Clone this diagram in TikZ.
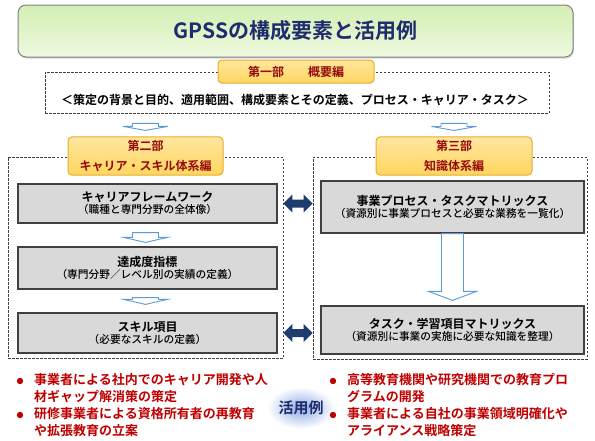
\documentclass[tikz,border=0pt]{standalone}
\usepackage{fontspec}
\setmainfont{Noto Sans CJK JP}[BoldFont={* Bold}]
\newfontfamily\mediumfont{Noto Sans CJK JP Medium}
\usetikzlibrary{calc, positioning, shadows}

\definecolor{titlenavy}{RGB}{31,45,110}
\definecolor{titlegreen}{RGB}{212,239,178}
\definecolor{tabred}{RGB}{150,10,10}
\definecolor{tabgold}{RGB}{255,214,95}
\definecolor{tabedge}{RGB}{232,172,45}
\definecolor{boxgray}{RGB}{217,217,217}
\definecolor{boxedge}{RGB}{64,64,64}
\definecolor{arrowblue}{RGB}{91,155,213}
\definecolor{darrow}{RGB}{31,60,110}
\definecolor{usered}{RGB}{192,0,0}

% hollow block arrow: start, tip, shaft half width, head half width, head length
\newcommand{\hollowdown}[5]{%
  \draw[hollowarrow] let \p1=(#1), \p2=(#2) in
    (\x1-#3,\y1) -- (\x1+#3,\y1) -- (\x1+#3,\y2+#5) -- (\x1+#4,\y2+#5)
    -- (\x1,\y2) -- (\x1-#4,\y2+#5) -- (\x1-#3,\y2+#5) -- cycle;}
% filled double arrow between two points
\newcommand{\fatdouble}[2]{%
  \fill[darrow] let \p1=(#1), \p2=(#2) in
    (\x1,\y1) -- (\x1+9pt,\y1+9pt) -- (\x1+9pt,\y1+4pt) -- (\x2-9pt,\y1+4pt)
    -- (\x2-9pt,\y1+9pt) -- (\x2,\y1) -- (\x2-9pt,\y1-9pt) -- (\x2-9pt,\y1-4pt)
    -- (\x1+9pt,\y1-4pt) -- (\x1+9pt,\y1-9pt) -- cycle;}
\newcommand{\boxlines}[2]{{\bfseries\fontsize{12}{12}\selectfont #1}\\{\mediumfont\fontsize{10.7}{13}\selectfont #2}}

\begin{document}
\begin{tikzpicture}[x=1pt, y=-1pt,
    partbox/.style={draw=boxedge, dash pattern=on 2.5pt off 1.5pt, line width=0.8pt},
    tabbox/.style={draw=tabedge, line width=1pt, rounded corners=4pt, top color=tabgold!60, bottom color=tabgold,
      text=tabred, font=\bfseries\fontsize{12}{20}\selectfont, align=center},
    itembox/.style={draw=boxedge, line width=1.2pt, fill=boxgray, align=center, inner sep=0pt},
    hollowarrow/.style={draw=arrowblue, line width=0.9pt, fill=white, line join=miter},
    usetext/.style={text=usered, font=\bfseries\fontsize{13}{17}\selectfont, align=left, anchor=north west, inner sep=0pt}]
    \useasboundingbox (0,0) rectangle (595,440);

    % Title
    \node[draw=gray, line width=1pt, rounded corners=8pt, top color=titlegreen, bottom color=titlegreen!40,
      drop shadow={opacity=0.3, shadow xshift=1pt, shadow yshift=-1.5pt},
      minimum width=555pt, minimum height=52pt, text=titlenavy, font=\bfseries\fontsize{21}{24}\selectfont]
      (title) at (295.5,31) {GPSSの構成要素と活用例};

    % Overview
    \node[partbox, minimum width=504pt, minimum height=41pt] (overview) at (297,92.5) {};
    \node[font=\bfseries\fontsize{12}{14}\selectfont] (scopeline) at (295,100)
      {＜策定の背景と目的、適用範囲、構成要素とその定義、プロセス・キャリア・タスク＞};
    \node[tabbox, minimum width=156pt, minimum height=23pt] (part1) at (296,71.5) {第一部　　概要編};

    % Career and skill part
    \node[partbox, minimum width=275pt, minimum height=201pt] (careerpart) at (145.5,257.5) {};
    \node[tabbox, minimum width=155pt, minimum height=38pt] (part2) at (145.5,156) {第二部\\キャリア・スキル体系編};
    \node[itembox, minimum width=259pt, minimum height=39pt] (frame) at (147.5,203.5)
      {\boxlines{キャリアフレームワーク}{（職種と専門分野の全体像）}};
    \node[itembox, minimum width=259pt, minimum height=42pt] (level) at (147.5,268)
      {\boxlines{達成度指標}{（専門分野／レベル別の実績の定義）}};
    \node[itembox, minimum width=259pt, minimum height=40pt] (skill) at (147.5,333)
      {\boxlines{スキル項目}{（必要なスキルの定義）}};

    % Knowledge part
    \node[partbox, minimum width=274pt, minimum height=202pt] (knowpart) at (450,258) {};
    \node[tabbox, minimum width=156pt, minimum height=38pt] (part3) at (454,156) {第三部\\知識体系編};
    \node[itembox, minimum width=263pt, minimum height=52pt] (process) at (452.5,207)
      {\boxlines{事業プロセス・タスクマトリックス}{（資源別に事業プロセスと必要な業務を一覧化）}};
    \node[itembox, minimum width=263pt, minimum height=48pt] (learning) at (452.5,330)
      {\boxlines{タスク・学習項目マトリックス}{（資源別に事業の実施に必要な知識を整理）}};

    % Flow arrows
    \hollowdown{$(part2.north |- overview.south)+(0,10)$}{$(part2.north)+(0,-6)$}{13pt}{22.5pt}{4pt}
    \hollowdown{$(part3.north |- overview.south)+(0,10)$}{$(part3.north)+(0,-6)$}{13pt}{22.5pt}{4pt}
    \hollowdown{$(part2.north |- frame.south)+(0,9)$}{$(part2.north |- level.north)+(0,-4)$}{13pt}{22pt}{5pt}
    \hollowdown{$(part2.north |- level.south)+(0,8)$}{$(part2.north |- skill.north)+(0,-8)$}{13pt}{22pt}{5pt}
    \hollowdown{process.south}{$(learning.north)+(0,-5)$}{11pt}{24pt}{9pt}
    \fatdouble{careerpart.east |- frame}{knowpart.west |- frame}
    \fatdouble{careerpart.east |- skill}{knowpart.west |- skill}

    % Usage examples
    \shade[inner color={rgb,255:red,140;green,172;blue,228}, outer color=white] (301,408) ellipse (34pt and 21pt);
    \node[text=titlenavy, font=\bfseries\fontsize{15}{15}\selectfont] (usage) at (301,408) {活用例};
    \node[usetext] (use1) at (34,373.5) {事業者による社内でのキャリア開発や人\\材ギャップ解消策の策定};
    \node[usetext] (use2) at (34,407.5) {研修事業者による資格所有者の再教育\\や拡張教育の立案};
    \node[usetext] (use3) at (347,373.5) {高等教育機関や研究機関での教育プロ\\グラムの開発};
    \node[usetext] (use4) at (347,407.5) {事業者による自社の事業領域明確化や\\アライアンス戦略策定};
    \foreach \u in {use1, use2, use3, use4}
        \fill[usered] ($(\u.north west)+(-14,7.5)$) circle (3.2pt);
\end{tikzpicture}
\end{document}
